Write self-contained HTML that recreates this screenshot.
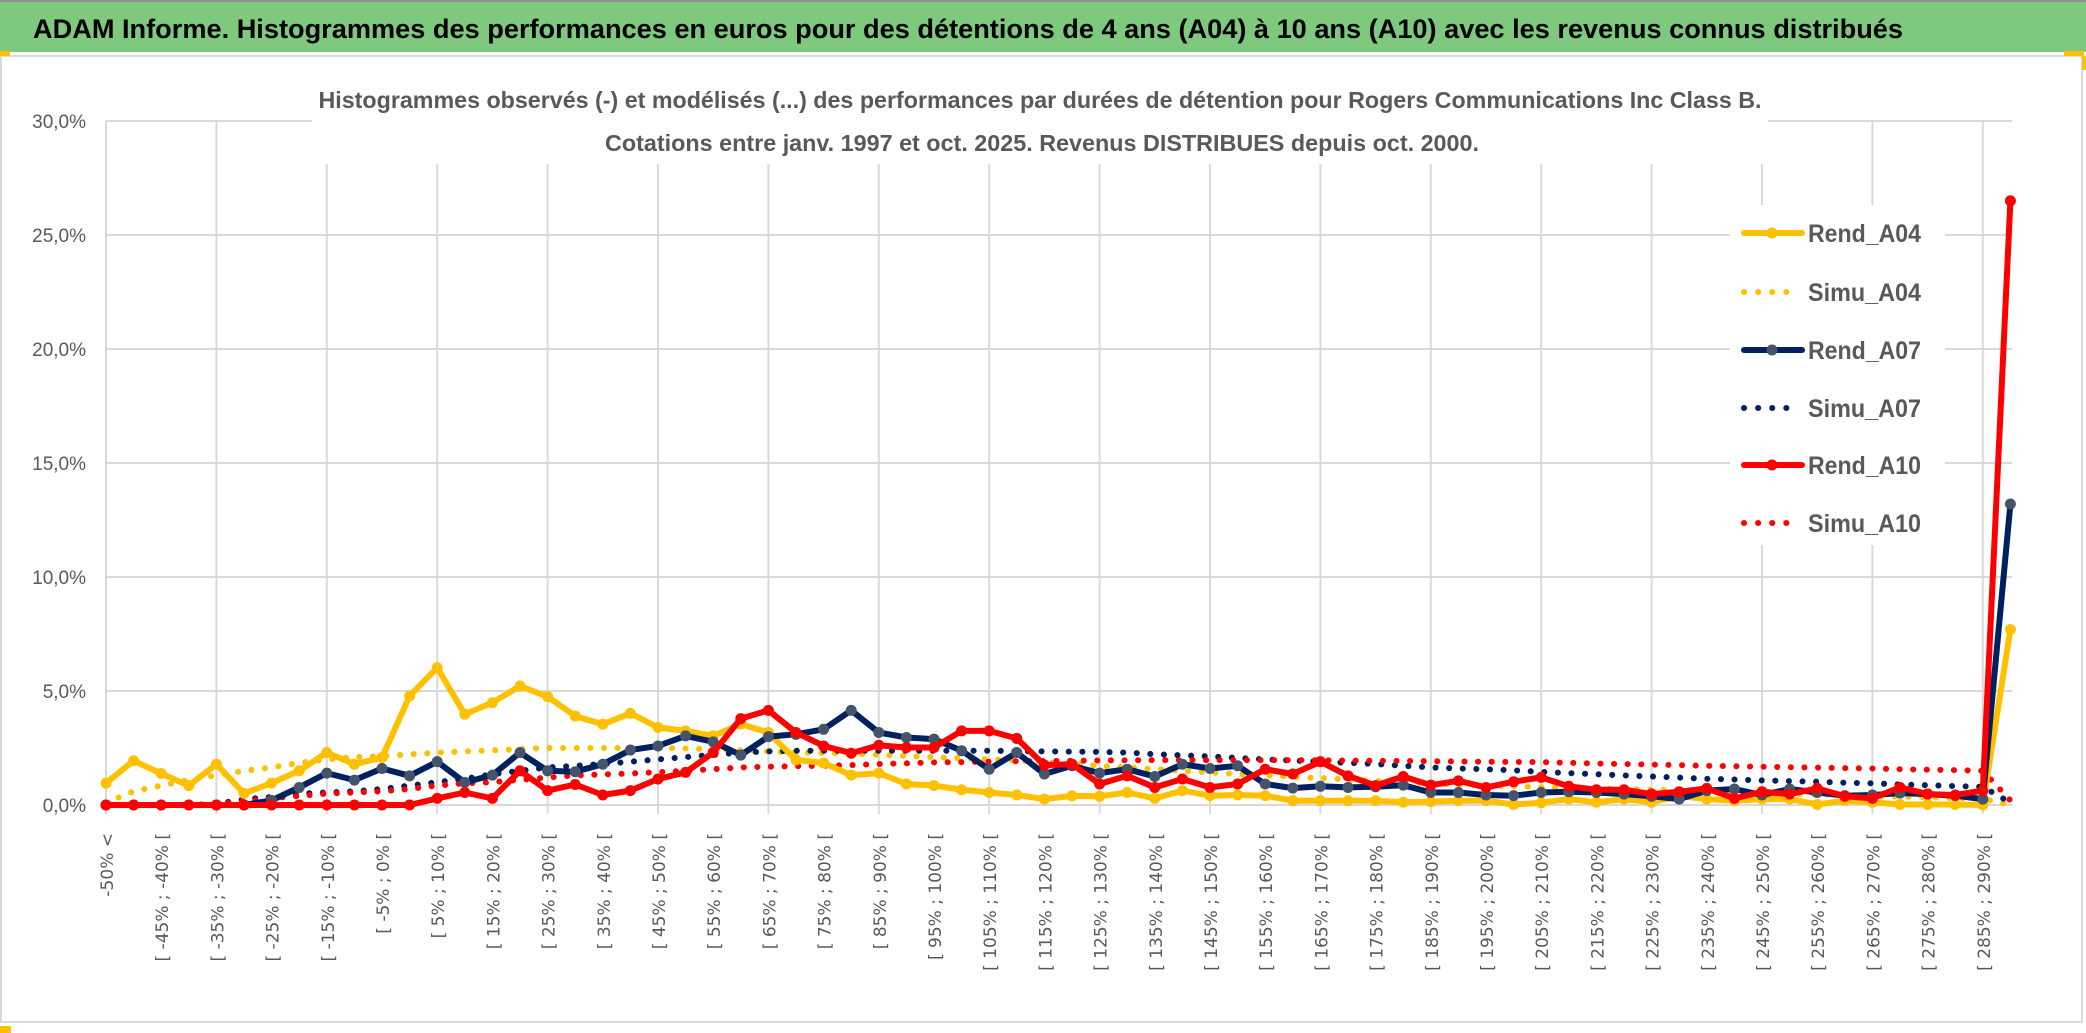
<!DOCTYPE html>
<html><head><meta charset="utf-8"><style>
html,body{margin:0;padding:0;background:#fff;width:2086px;height:1033px;overflow:hidden}
svg{display:block}
</style></head><body>
<svg id="chart" width="2086" height="1033" xmlns="http://www.w3.org/2000/svg" font-family="'Liberation Sans', sans-serif">
<rect x="0" y="0" width="2086" height="1033" fill="#fff"/>
<rect x="0" y="0" width="2086" height="2" fill="#909090"/>
<rect x="0" y="2" width="2086" height="50" fill="#7FC97F"/>
<text x="33" y="38" font-size="27" font-weight="bold" fill="#000" textLength="1870" lengthAdjust="spacingAndGlyphs">ADAM Informe. Histogrammes des performances en euros pour des détentions de 4 ans (A04) à 10 ans (A10) avec les revenus connus distribués</text>
<rect x="1" y="56" width="2081" height="966" fill="#fff" stroke="#d9d9d9" stroke-width="2"/>
<rect x="0" y="51" width="10" height="5" fill="#FFC000"/>
<rect x="2064" y="51" width="20" height="5" fill="#FFC000"/>
<rect x="2082" y="56" width="4" height="14" fill="#FFC000"/>
<rect x="0" y="1026" width="11" height="7" fill="#FFC000"/>
<g id="grid"></g>
<g id="ylabels"></g>
<g id="xlabels"></g>
<rect x="312" y="80" width="1456" height="84" fill="#fff"/>
<text x="1040" y="108" text-anchor="middle" font-size="23" font-weight="bold" fill="#595959" textLength="1443" lengthAdjust="spacingAndGlyphs">Histogrammes observés (-) et modélisés (...) des performances par durées de détention pour Rogers Communications Inc Class B.</text>
<text x="1042" y="151" text-anchor="middle" font-size="23" font-weight="bold" fill="#595959" textLength="874" lengthAdjust="spacingAndGlyphs">Cotations entre janv. 1997 et oct. 2025. Revenus DISTRIBUES depuis oct. 2000.</text>
<rect x="1730" y="205" width="215" height="340" fill="#fff"/>
<g id="series"></g>
<g id="legend"></g>
</svg>
<script>
const categories = (function(){const a=['-50% <'];for(let k=-50;k<295;k+=5){a.push('[ '+k+'% ; '+(k+5)+'% [');}a.length=69;a.push('> 290%');return a;})();
const yTicks = [0,5,10,15,20,25,30];
const yTickLabels = ['0,0%','5,0%','10,0%','15,0%','20,0%','25,0%','30,0%'];
const rend04 = [0.96,1.94,1.38,0.85,1.79,0.51,0.96,1.5,2.3,1.79,2.08,4.78,6.02,3.98,4.49,5.22,4.75,3.9,
3.54,4.02,3.40,3.25,3.03,3.55,3.18,1.98,1.84,1.31,1.40,0.92,0.85,0.67,0.55,0.44,0.26,0.4,
0.38,0.55,0.29,0.63,0.41,0.44,0.41,0.19,0.19,0.19,0.19,0.12,0.15,0.19,0.19,0.02,0.1,
0.26,0.12,0.26,0.12,0.4,0.26,0.19,0.26,0.26,0.02,0.19,0.12,0.02,0.02,0.02,0.0,7.7];
const simu04 = [0.1,0.6,0.85,1.1,1.3,1.5,1.65,1.85,2.0,2.1,2.15,2.22,2.3,2.35,2.4,2.45,2.5,2.5,
2.5,2.5,2.5,2.48,2.45,2.4,2.35,2.3,2.28,2.25,2.2,2.15,2.1,2.05,2.0,1.95,1.88,1.8,
1.72,1.65,1.58,1.5,1.43,1.36,1.3,1.24,1.18,1.12,1.06,1.0,0.95,0.9,0.86,0.82,0.78,
0.75,0.72,0.7,0.67,0.64,0.6,0.57,0.54,0.5,0.47,0.44,0.4,0.37,0.34,0.3,0.27,0];
const rend07 = [0,0,0,0,0,0,0.2,0.77,1.4,1.09,1.6,1.28,1.9,0.99,1.31,2.3,1.5,1.46,
1.79,2.41,2.59,3.03,2.77,2.19,3.0,3.1,3.32,4.15,3.18,2.96,2.89,2.38,1.57,2.3,1.36,1.72,
1.4,1.57,1.25,1.79,1.6,1.72,0.92,0.74,0.82,0.77,0.8,0.87,0.55,0.55,0.44,0.41,0.55,
0.58,0.55,0.48,0.38,0.26,0.63,0.7,0.44,0.7,0.55,0.41,0.44,0.52,0.48,0.41,0.26,13.2];
const simu07 = [0,0,0,0,0.05,0.25,0.35,0.5,0.55,0.6,0.7,0.85,1.0,1.15,1.35,1.5,1.65,1.72,
1.8,1.9,2.0,2.1,2.2,2.3,2.35,2.38,2.38,2.38,2.38,2.38,2.38,2.38,2.38,2.36,2.35,2.34,
2.33,2.3,2.23,2.18,2.13,2.06,2.0,1.95,1.9,1.85,1.8,1.72,1.65,1.6,1.57,1.52,1.45,
1.4,1.35,1.3,1.25,1.2,1.15,1.12,1.08,1.05,1.02,0.98,0.95,0.9,0.87,0.83,0.8,0.1];
const rend10 = [0,0,0,0,0,0,0,0,0,0,0,0,0.29,0.55,0.29,1.5,0.63,0.9,
0.44,0.63,1.14,1.43,2.3,3.79,4.15,3.18,2.59,2.27,2.62,2.52,2.52,3.25,3.25,2.92,1.75,1.79,
0.92,1.28,0.77,1.14,0.77,0.92,1.57,1.36,1.9,1.28,0.85,1.25,0.87,1.06,0.77,1.02,1.21,
0.82,0.67,0.67,0.48,0.58,0.73,0.29,0.58,0.48,0.73,0.38,0.29,0.77,0.48,0.44,0.63,26.5];
const simu10 = [0,0,0,0,0.05,0.15,0.3,0.4,0.5,0.55,0.6,0.7,0.85,0.95,1.0,1.1,1.2,1.3,
1.34,1.38,1.44,1.5,1.57,1.65,1.68,1.7,1.72,1.75,1.8,1.83,1.87,1.88,1.9,1.92,1.93,1.94,
1.95,1.96,1.97,1.97,1.97,1.97,1.97,1.97,1.96,1.95,1.94,1.93,1.92,1.91,1.9,1.89,1.88,
1.85,1.82,1.8,1.77,1.75,1.72,1.7,1.68,1.66,1.64,1.62,1.6,1.57,1.55,1.53,1.5,0.2];
const seriesNames = ['Simu_A04','Simu_A07','Simu_A10','Rend_A04','Rend_A07','Rend_A10'];

const NS='http://www.w3.org/2000/svg';
const X0=106, DX=27.6, Y0=805, PX=22.8;
function xs(i){return X0+DX*i;}
function ys(v){return Y0-PX*v;}
function mk(tag,attrs,parent){const e=document.createElementNS(NS,tag);for(const k in attrs)e.setAttribute(k,attrs[k]);parent.appendChild(e);return e;}

const grid=document.getElementById('grid');
const xEnd=xs(categories.length-1)+2;
for(let i=0;i<categories.length;i+=4){
  const l=mk('line',{x1:xs(i),x2:xs(i),y1:ys(30),y2:Y0+9,stroke:'#d9d9d9','stroke-width':2},grid);
  
  
}
const yl=document.getElementById('ylabels');
yTicks.forEach((t,k)=>{
  const l=mk('line',{x1:X0,x2:xEnd,y1:ys(t),y2:ys(t),stroke:'#d9d9d9','stroke-width':2},grid);
  
  
  const tx=mk('text',{x:86,y:ys(t)+7,'text-anchor':'end','font-size':19,fill:'#595959'},yl);
  tx.textContent=yTickLabels[k];
  
  
});
const xl=document.getElementById('xlabels');
for(let i=0;i<categories.length;i+=2){
  const x=xs(i)+7, y=833;
  const tx=mk('text',{x:x,y:y,'text-anchor':'end','font-size':17,fill:'#595959','font-family':"'DejaVu Sans', sans-serif",transform:'rotate(-90 '+x+' '+y+')'},xl);
  tx.textContent=categories[i];
  
  
}
const sg=document.getElementById('series');
function path(arr){return arr.map((v,i)=>(i?'L':'M')+xs(i).toFixed(1)+' '+ys(v).toFixed(1)).join(' ');}
function dotted(arr,color,name){
  const p=mk('path',{d:path(arr),fill:'none',stroke:color,'stroke-width':6,'stroke-linecap':'round','stroke-dasharray':'0.1 13.5'},sg);
  
  
}
function solid(arr,color,mcolor,name){
  const g=mk('g',{},sg);
  
  
  mk('path',{d:path(arr),fill:'none',stroke:color,'stroke-width':6,'stroke-linejoin':'round'},g);
  arr.forEach((v,i)=>{
    const c=mk('circle',{cx:xs(i),cy:ys(v),r:5.5,fill:mcolor},g);
    
    
  });
}
dotted(simu04,'#FFC000','simu-a04-line');
dotted(simu07,'#002060','simu-a07-line');
dotted(simu10,'#FF0000','simu-a10-line');
solid(rend04,'#FFC000','#FFC000','rend-a04-line');
solid(rend07,'#002060','#44546A','rend-a07-line');
solid(rend10,'#FF0000','#FF0000','rend-a10-line');

const lg=document.getElementById('legend');
const legendY=[233,292,350,408,465,523];
const legendItems=[['Rend_A04','#FFC000','#FFC000',false],['Simu_A04','#FFC000',null,true],['Rend_A07','#002060','#44546A',false],['Simu_A07','#002060',null,true],['Rend_A10','#FF0000','#FF0000',false],['Simu_A10','#FF0000',null,true]];
legendItems.forEach((it,k)=>{
  const g=mk('g',{},lg);
  
  
  const y=legendY[k];
  if(it[3]){
    mk('line',{x1:1744,x2:1800,y1:y,y2:y,stroke:it[1],'stroke-width':6,'stroke-linecap':'round','stroke-dasharray':'0.1 14'},g);
  } else {
    mk('line',{x1:1744,x2:1802,y1:y,y2:y,stroke:it[1],'stroke-width':6,'stroke-linecap':'round'},g);
    mk('circle',{cx:1772,cy:y,r:5.5,fill:it[2]},g);
  }
  const t=mk('text',{x:1808,y:y+9,'font-size':25,'font-weight':'bold',fill:'#595959',textLength:it[0].length>8?115:113,lengthAdjust:'spacingAndGlyphs'},g);
  t.textContent=it[0];
});
</script>
</body></html>
